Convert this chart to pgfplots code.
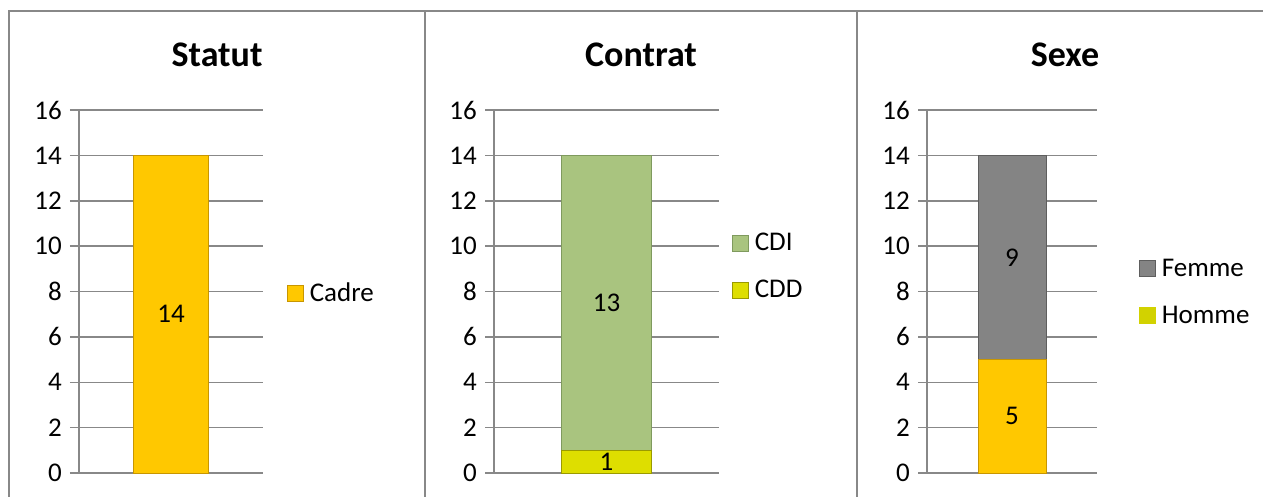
\documentclass[border=0pt]{standalone}
\usepackage{fontspec}
\setmainfont{Carlito}
\usepackage{pgfplots}
\pgfplotsset{compat=1.18}
\definecolor{gold}{HTML}{FFC800}
\definecolor{golde}{HTML}{C89600}
\definecolor{cdi}{HTML}{A9C47F}
\definecolor{cdie}{HTML}{7F9A5E}
\definecolor{cdd}{HTML}{DEDE00}
\definecolor{cdde}{HTML}{9A9A00}
\definecolor{fem}{HTML}{848484}
\definecolor{feme}{HTML}{5E5E5E}
\definecolor{hom}{HTML}{D2D200}
\definecolor{gridc}{HTML}{888888}
\pgfplotsset{
  panel/.style={
    scale only axis,
    height=363pt,
    ymin=0, ymax=16, ytick={0,2,...,16},
    xmin=-0.5, xmax=0.5, xtick=\empty,
    axis x line*=bottom, axis y line*=left,
    axis line style={gridc, line width=1.5pt},
    ymajorgrids, grid style={gridc, line width=1.5pt},
    major tick length=9pt, tick align=outside, ytick pos=left,
    tick style={gridc, line width=1.5pt},
    /pgf/number format/assume math mode=true,
    yticklabel style={font=\fontsize{27}{31}\selectfont, black, inner sep=0pt, xshift=-8pt},
    ybar stacked, bar width=0.4,
    legend cell align=left,
    legend style={draw=none, fill=none, font=\fontsize{27}{31}\selectfont, inner sep=0pt,
      row sep=28pt, nodes={inner sep=0pt}},
    /tikz/every odd column/.append style={column sep=6pt},
    legend image code/.code={\fill[##1] (0pt,-8pt) rectangle (16pt,8pt);},
  },
  labels/.style={
    scale only axis, height=363pt,
    ymin=0, ymax=16, xmin=-0.5, xmax=0.5, hide axis,
    nodes near coords, point meta=explicit symbolic,
    every node near coord/.append style={font=\fontsize{27}{31}\selectfont, black, anchor=center},
  },
}
\begin{document}
\begin{tikzpicture}
\useasboundingbox (0pt,0pt) rectangle (1263pt,496pt);
\clip (0pt,0pt) rectangle (1263pt,496pt);
\fill[white] (0pt,0pt) rectangle (1263pt,496pt);
% panel frames
\draw[gridc, line width=2.5pt] (9pt,-20pt) -- (9pt,485pt) -- (1300pt,485pt);
\draw[gridc, line width=2.5pt] (425pt,-20pt) -- (425pt,485pt);
\draw[gridc, line width=2.5pt] (857pt,-20pt) -- (857pt,485pt);
% titles
\node[anchor=base, font=\fontsize{36}{40}\selectfont\bfseries] at (217pt,429pt) {Statut};
\node[anchor=base, font=\fontsize{36}{40}\selectfont\bfseries] at (641pt,429pt) {Contrat};
\node[anchor=base, font=\fontsize{36}{40}\selectfont\bfseries] at (1065pt,429pt) {Sexe};
% Statut
\begin{axis}[panel, at={(79pt,23pt)}, anchor=south west, width=184pt, bar width=0.41,
  legend style={at={(1,0.496)}, anchor=west, xshift=24pt}]
\addplot[fill=gold, draw=golde, line width=0.6pt] coordinates {(0,14)};
\addlegendentry{Cadre}
\end{axis}
\begin{axis}[labels, at={(79pt,23pt)}, anchor=south west, width=184pt]
\addplot[draw=none, mark=none] coordinates {(0,7) [14]};
\end{axis}
% Contrat
\begin{axis}[panel, at={(494pt,23pt)}, anchor=south west, width=225pt,
  reverse legend, legend style={at={(1,0.569)}, anchor=west, xshift=13pt}]
\addplot[fill=cdd, draw=cdde, line width=0.6pt] coordinates {(0,1)};
\addlegendentry{CDD}
\addplot[fill=cdi, draw=cdie, line width=0.6pt] coordinates {(0,13)};
\addlegendentry{CDI}
\end{axis}
\begin{axis}[labels, at={(494pt,23pt)}, anchor=south west, width=225pt]
\addplot[draw=none, mark=none] coordinates {(0,0.5) [1] (0,7.5) [13]};
\end{axis}
% Sexe
\begin{axis}[panel, at={(927pt,23pt)}, anchor=south west, width=170pt,
  reverse legend, legend style={at={(1,0.4986)}, anchor=west, xshift=42pt}]
\addplot[fill=gold, draw=golde, line width=0.6pt,
  legend image code/.code={\fill[hom] (0pt,-8pt) rectangle (16pt,8pt);}] coordinates {(0,5)};
\addlegendentry{Homme}
\addplot[fill=fem, draw=feme, line width=0.6pt] coordinates {(0,9)};
\addlegendentry{Femme}
\end{axis}
\begin{axis}[labels, at={(927pt,23pt)}, anchor=south west, width=170pt]
\addplot[draw=none, mark=none] coordinates {(0,2.5) [5] (0,9.5) [9]};
\end{axis}
\end{tikzpicture}
\end{document}
